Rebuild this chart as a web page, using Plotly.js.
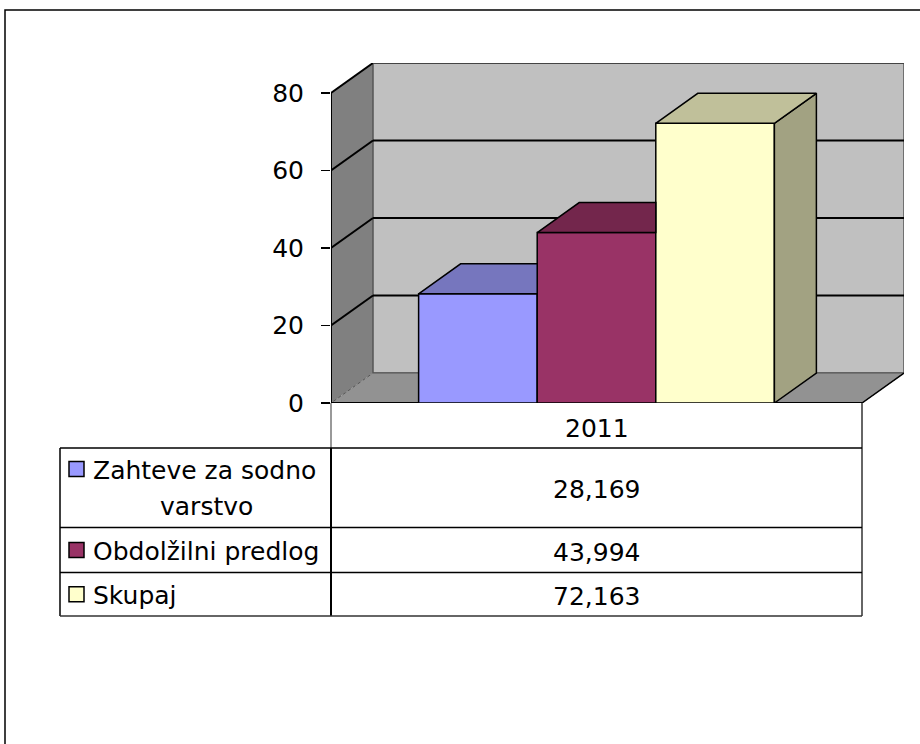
<!DOCTYPE html>
<html>
<head>
<meta charset="utf-8">
<script src="https://cdn.plot.ly/plotly-3.0.1.min.js"></script>
<style>html,body{margin:0;padding:0;background:#fff;}#chart{width:920px;height:744px;}</style>
</head>
<body>
<div id="chart"></div>
<script>
// ---- data ----
const categories = ['2011'];
const seriesNames = ['Zahteve za sodno varstvo', 'Obdolžilni predlog', 'Skupaj'];
const seriesValues = [28.169, 43.994, 72.163];
const frontColors = ['#9999FF', '#993366', '#FFFFCC'];
const topColors = ['#7676BE', '#73264C', '#C0C09A'];
const sideColors = ['#6A6AB0', '#6A2346', '#A2A282'];
const yTicks = [0, 20, 40, 60, 80];

// ---- layout constants ----
const W = 920, H = 744;
const ML = 331, MR = 16, MT = 63, MB = 341;
const PW = W - ML - MR, PH = H - MT - MB;
const DX = 42 / 531;          // depth offset in x units
const DY = 7.74;              // depth offset in y units
const YMAX = yTicks[yTicks.length - 1];
const BARGAP = 0.33;
const BW = (1 - BARGAP) / seriesNames.length;
const FONT = 'DejaVu Sans';

// pixel -> paper helpers for the table area
const px = x => (x - ML) / PW;
const py = y => (H - MB - y) / PH;

const traces = [];
const n = seriesNames.length;

// front faces (bars)
seriesNames.forEach((name, i) => {
  traces.push({
    type: 'bar', name: name,
    x: categories.map((c, k) => k),
    y: [seriesValues[i]],
    width: BW, offset: -n * BW / 2 + i * BW,
    marker: {color: frontColors[i], line: {color: '#000', width: 1.5}},
    showlegend: false, hoverinfo: 'skip'
  });
});

// top & side faces (3D effect), computed from the values
seriesNames.forEach((name, i) => {
  categories.forEach((c, k) => {
    const v = seriesValues[i];
    const x0 = k - n * BW / 2 + i * BW, x1 = x0 + BW;
    const hidden = i < n - 1 && seriesValues[i + 1] >= v + DY;
    let tx, ty;
    if (hidden) {
      tx = [x0, x1, x1, x0 + DX, x0];
      ty = [v, v, v + DY, v + DY, v];
    } else {
      tx = [x0, x1, x1 + DX, x0 + DX, x0];
      ty = [v, v, v + DY, v + DY, v];
      traces.push({
        type: 'scatter', mode: 'lines', x: [x1, x1, x1 + DX, x1 + DX, x1], y: [0, v, v + DY, DY, 0],
        fill: 'toself', fillcolor: sideColors[i], line: {color: '#000', width: 1.5},
        showlegend: false, hoverinfo: 'skip'
      });
    }
    traces.push({
      type: 'scatter', mode: 'lines', x: tx, y: ty,
      fill: 'toself', fillcolor: topColors[i], line: {color: '#000', width: 1.5},
      showlegend: false, hoverinfo: 'skip'
    });
  });
});

const L = -0.5, R = 0.5;
const shapes = [];
// side wall
shapes.push({type: 'path', layer: 'below', xref: 'x', yref: 'y',
  path: `M${L},0 L${L},${YMAX} L${L + DX},${YMAX + DY} L${L + DX},${DY} Z`,
  fillcolor: '#808080', line: {color: '#808080', width: 1}});
// back wall
shapes.push({type: 'rect', layer: 'below', xref: 'x', yref: 'y',
  x0: L + DX, x1: R + DX, y0: DY, y1: YMAX + DY,
  fillcolor: '#C0C0C0', line: {color: '#555', width: 1.5}});
// floor
shapes.push({type: 'path', layer: 'below', xref: 'x', yref: 'y',
  path: `M${L},0 L${R},0 L${R + DX},${DY} L${L + DX},${DY} Z`,
  fillcolor: '#929292', line: {color: '#555', width: 1}});
// gridlines on side + back wall
yTicks.forEach(t => {
  if (t === 0) {
    shapes.push({type: 'line', layer: 'below', xref: 'x', yref: 'y', x0: L, y0: 0, x1: L + DX, y1: DY,
      line: {color: '#A0A0A0', width: 1, dash: 'dot'}});
    return;
  }
  shapes.push({type: 'line', layer: 'below', xref: 'x', yref: 'y', x0: L, y0: t, x1: L + DX, y1: t + DY,
    line: {color: '#000', width: 2}});
  shapes.push({type: 'line', layer: 'below', xref: 'x', yref: 'y', x0: L + DX, y0: t + DY, x1: R + DX, y1: t + DY,
    line: {color: t === YMAX ? '#444' : '#000', width: 2}});
});
// floor front edge and right edge
shapes.push({type: 'line', layer: 'below', xref: 'x', yref: 'y', x0: L, y0: 0, x1: R, y1: 0, line: {color: '#000', width: 2}});
shapes.push({type: 'line', layer: 'below', xref: 'x', yref: 'y', x0: R, y0: 0, x1: R + DX, y1: DY, line: {color: '#000', width: 1.5}});
// value axis line
shapes.push({type: 'line', layer: 'above', xref: 'x', yref: 'y', x0: L, y0: 0, x1: L, y1: YMAX, line: {color: '#000', width: 2}});

// ---- data table ----
const tL = 60, tM = 331, tR = 862;
const rowTop = [403, 448, 527.5, 572.5, 616];
const lineP = (x0, y0, x1, y1, c, w) => ({type: 'line', xref: 'paper', yref: 'paper',
  x0: px(x0), y0: py(y0), x1: px(x1), y1: py(y1), line: {color: c, width: w}});
shapes.push(lineP(tM, rowTop[0], tM, rowTop[1], '#777', 1.5));
shapes.push(lineP(tR, rowTop[0], tR, rowTop[4], '#333', 1.5));
shapes.push(lineP(tM, rowTop[1], tM, rowTop[4], '#000', 2));
shapes.push(lineP(tL, rowTop[1], tL, rowTop[4], '#000', 1.5));
for (let r = 1; r < rowTop.length; r++) shapes.push(lineP(tL, rowTop[r], tR, rowTop[r], r === 4 ? '#333' : '#000', 1.5));
// outer frame
shapes.push({type: 'rect', xref: 'paper', yref: 'paper', x0: px(5), x1: px(940), y0: py(10), y1: py(760),
  line: {color: '#000', width: 1.5}, fillcolor: 'rgba(0,0,0,0)'});

const annotations = [];
const ann = (text, x, y, xanchor) => ({text, x: px(x), y: py(y), xref: 'paper', yref: 'paper',
  xanchor: xanchor || 'center', yanchor: 'middle', showarrow: false, font: {family: FONT, size: 25, color: '#000'}});
annotations.push(ann(categories[0], (tM + tR) / 2, (rowTop[0] + rowTop[1]) / 2 + 3));

function wrapName(name, maxLen) {
  if (name.length <= maxLen) return [name];
  const cut = name.lastIndexOf(' ', maxLen);
  return [name.slice(0, cut), name.slice(cut + 1)];
}
seriesNames.forEach((name, i) => {
  const top = rowTop[i + 1], bot = rowTop[i + 2];
  const mid = (top + bot) / 2;
  const lines = wrapName(name, 18);
  const keyY = lines.length > 1 ? top + 21 : mid;
  shapes.push({type: 'rect', xref: 'paper', yref: 'paper', x0: px(69), x1: px(84), y0: py(keyY - 7.5), y1: py(keyY + 7.5),
    fillcolor: frontColors[i], line: {color: '#000', width: 1.5}});
  if (lines.length > 1) {
    annotations.push(ann(lines[0], 91, keyY + 1, 'left'));
    annotations.push(ann(lines[1], 206, keyY + 37));
  } else {
    annotations.push(ann(lines[0], 91, mid + 1, 'left'));
  }
  annotations.push(ann(seriesValues[i].toFixed(3).replace('.', ','), (tM + tR) / 2, mid + 2));
});

const layout = {
  width: W, height: H,
  margin: {l: ML, r: MR, t: MT, b: MB, pad: 0},
  paper_bgcolor: '#fff', plot_bgcolor: 'rgba(0,0,0,0)',
  showlegend: false, barmode: 'overlay',
  xaxis: {type: 'linear', range: [L, R + DX], showgrid: false, zeroline: false, showline: false,
    showticklabels: false, ticks: '', fixedrange: true},
  yaxis: {range: [0, YMAX + DY], tickvals: yTicks, ticktext: yTicks.map(String), showgrid: false,
    zeroline: false, showline: false, ticks: 'outside', ticklen: 9, tickwidth: 1.5, tickcolor: '#000',
    ticklabelstandoff: 12, tickfont: {family: FONT, size: 25, color: '#000'}, fixedrange: true},
  shapes, annotations
};
Plotly.newPlot('chart', traces, layout, {displayModeBar: false, staticPlot: true});
</script>
</body>
</html>
